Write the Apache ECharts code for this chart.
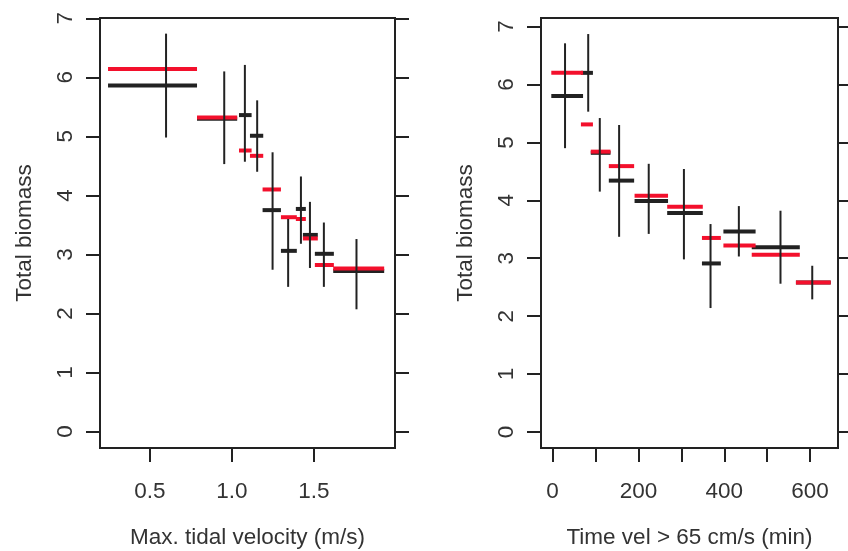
<!DOCTYPE html>
<html>
<head>
<meta charset="utf-8">
<script src="https://cdn.jsdelivr.net/npm/echarts@6.0.0/dist/echarts.min.js"></script>
<style>
  html, body { margin: 0; padding: 0; background: #fff; }
  #chart { width: 848px; height: 551px; }
</style>
</head>
<body>
<div id="chart"></div>
<script>
// left panel: max tidal velocity bins
var leftX0 = [0.244, 0.787, 1.043, 1.110, 1.187, 1.299, 1.390, 1.433, 1.506, 1.618];
var leftX1 = [0.787, 1.032, 1.120, 1.191, 1.299, 1.396, 1.451, 1.524, 1.622, 1.929];
var leftMid = [0.598, 0.953, 1.079, 1.154, 1.248, 1.343, 1.421, 1.476, 1.561, 1.760];
var leftBlack = [5.86, 5.30, 5.36, 5.01, 3.75, 3.06, 3.77, 3.33, 3.01, 2.72];
var leftRed = [6.14, 5.32, 4.76, 4.67, 4.10, 3.63, 3.60, 3.27, 2.82, 2.76];
var leftLow = [4.98, 4.53, 4.57, 4.40, 2.74, 2.45, 3.18, 2.77, 2.45, 2.07];
var leftHigh = [6.74, 6.10, 6.21, 5.61, 4.73, 3.60, 4.32, 3.89, 3.54, 3.26];

// right panel: time with velocity > 65 cm/s
var rightX0 = [-3, 66, 89, 131, 191, 267, 348, 398, 464, 567];
var rightX1 = [71, 94, 135, 190, 269, 350, 392, 473, 576, 648];
var rightMid = [29, 83, 110, 155, 224, 306, 368, 434, 531, 605];
var rightBlack = [5.80, 6.20, 4.82, 4.34, 3.99, 3.78, 2.91, 3.46, 3.19, 2.58];
var rightRed = [6.20, 5.31, 4.84, 4.59, 4.08, 3.89, 3.35, 3.22, 3.06, 2.58];
var rightLow = [4.90, 5.53, 4.15, 3.37, 3.42, 2.98, 2.14, 3.03, 2.56, 2.29];
var rightHigh = [6.71, 6.87, 5.42, 5.30, 4.63, 4.54, 3.59, 3.90, 3.82, 2.87];

var yTicks = [0, 1, 2, 3, 4, 5, 6, 7];
var leftXTicks = [0.5, 1.0, 1.5];
var rightXTicks = [0, 100, 200, 300, 400, 500, 600];
var rightXLabels = [0, 200, 400, 600];

var ink = '#222';
var red = '#f3102c';
var font = "'Liberation Sans', Arial, sans-serif";

function zip(a, b, c) {
  return a.map(function (v, i) { return [v, b[i], c[i]]; });
}

function hSeg(xi, yi, data, color, z) {
  return {
    type: 'custom', xAxisIndex: xi, yAxisIndex: yi, z: z,
    data: data,
    encode: { x: [0, 1], y: 2 },
    renderItem: function (params, api) {
      var p0 = api.coord([api.value(0), api.value(2)]);
      var p1 = api.coord([api.value(1), api.value(2)]);
      return { type: 'line', shape: { x1: p0[0], y1: p0[1], x2: p1[0], y2: p1[1] },
        style: { stroke: color, lineWidth: 4 } };
    }
  };
}

function vSeg(xi, yi, data, z) {
  return {
    type: 'custom', xAxisIndex: xi, yAxisIndex: yi, z: z,
    data: data,
    encode: { x: 0, y: [1, 2] },
    renderItem: function (params, api) {
      var p0 = api.coord([api.value(0), api.value(1)]);
      var p1 = api.coord([api.value(0), api.value(2)]);
      return { type: 'line', shape: { x1: p0[0], y1: p0[1], x2: p1[0], y2: p1[1] },
        style: { stroke: ink, lineWidth: 2 } };
    }
  };
}

function xAxis(grid, min, max, ticks, labels, name, fmt) {
  return {
    type: 'value', gridIndex: grid, min: min, max: max,
    name: name, nameLocation: 'middle', nameGap: 78,
    nameTextStyle: { fontSize: 22.5, color: '#333', fontFamily: font },
    axisLine: { show: true, onZero: false, lineStyle: { color: ink, width: 2 } },
    axisTick: { show: true, customValues: ticks, length: 14, lineStyle: { color: ink, width: 2 } },
    axisLabel: { customValues: labels, margin: 32, fontSize: 22.5, color: '#333', fontFamily: font, formatter: fmt },
    splitLine: { show: false }
  };
}

function yAxis(grid, min, max, pos, withLabels) {
  return {
    type: 'value', gridIndex: grid, min: min, max: max, position: pos,
    name: withLabels ? 'Total biomass' : '', nameLocation: 'middle', nameGap: 64,
    nameTextStyle: { fontSize: 22.5, color: '#333', fontFamily: font },
    axisLine: { show: true, onZero: false, lineStyle: { color: ink, width: 2 } },
    axisTick: { show: true, customValues: yTicks, length: 14, lineStyle: { color: ink, width: 2 } },
    axisLabel: { show: withLabels, customValues: yTicks, rotate: 90, margin: 23, fontSize: 22.5, color: '#333', fontFamily: font },
    splitLine: { show: false }
  };
}

var chart = echarts.init(document.getElementById('chart'), null, { renderer: 'canvas' });

chart.setOption({
  backgroundColor: '#fff',
  animation: false,
  grid: [
    { left: 100, top: 18, width: 295, height: 430, show: true, borderColor: ink, borderWidth: 2, outerBoundsMode: 'none' },
    { left: 541, top: 18, width: 297, height: 430, show: true, borderColor: ink, borderWidth: 2, outerBoundsMode: 'none' }
  ],
  xAxis: [
    xAxis(0, 0.195, 1.995, leftXTicks, leftXTicks, 'Max. tidal velocity (m/s)', function (v) { return v.toFixed(1); }),
    xAxis(1, -27, 665, rightXTicks, rightXLabels, 'Time vel > 65 cm/s (min)', function (v) { return String(v); })
  ],
  yAxis: [
    yAxis(0, -0.28, 7.005, 'left', true),
    yAxis(0, -0.28, 7.005, 'right', false),
    yAxis(1, -0.276, 7.147, 'left', true),
    yAxis(1, -0.276, 7.147, 'right', false)
  ],
  series: [
    hSeg(0, 0, zip(leftX0, leftX1, leftBlack), ink, 2),
    hSeg(0, 0, zip(leftX0, leftX1, leftRed), red, 3),
    vSeg(0, 0, zip(leftMid, leftLow, leftHigh), 4),
    hSeg(1, 2, zip(rightX0, rightX1, rightBlack), ink, 2),
    hSeg(1, 2, zip(rightX0, rightX1, rightRed), red, 3),
    vSeg(1, 2, zip(rightMid, rightLow, rightHigh), 4)
  ]
});
</script>
</body>
</html>
